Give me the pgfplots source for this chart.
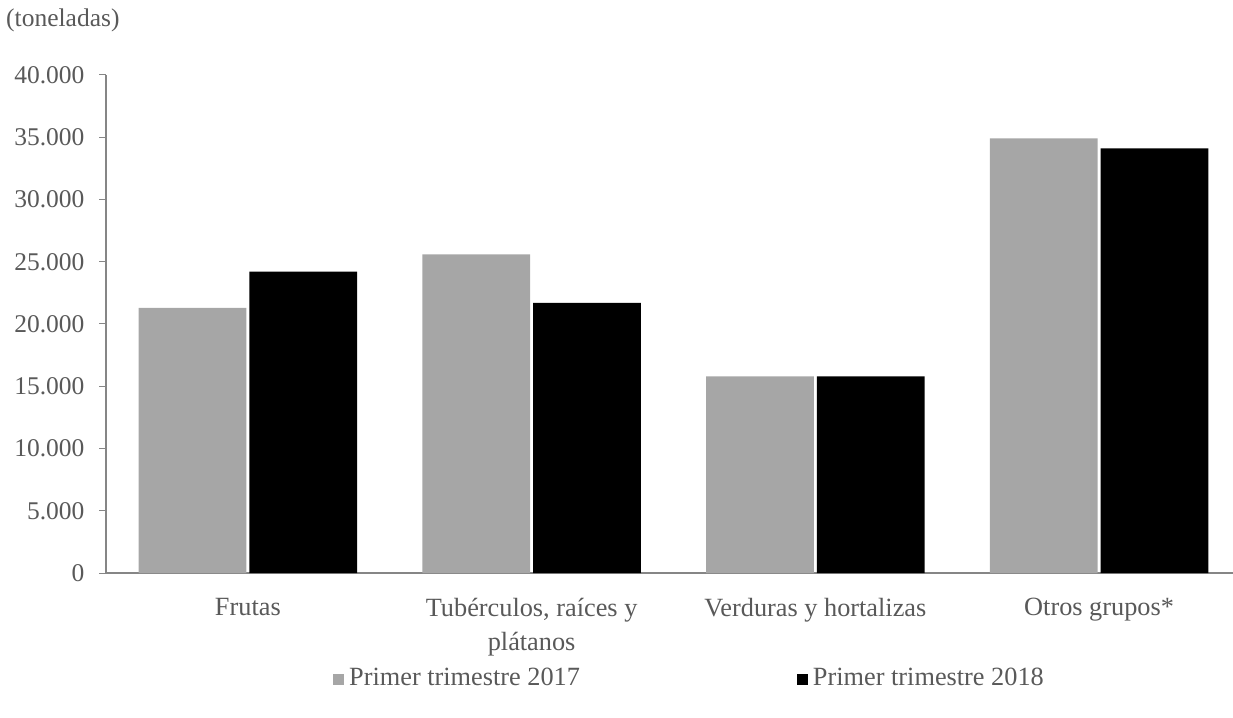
\documentclass[border=0pt]{standalone}
\usepackage{pgfplots}
\pgfplotsset{compat=1.18}
\usepackage{fontspec}
\setmainfont{Liberation Serif}
\definecolor{txt}{HTML}{595959}
\definecolor{axl}{HTML}{868686}
\definecolor{bgray}{HTML}{A6A6A6}
\begin{document}
\fontsize{25}{33}\selectfont
\begin{tikzpicture}[x=1pt,y=1pt]
\path[use as bounding box] (0,0) rectangle (1233,717);
\node[anchor=west, text=txt, inner sep=0pt, font=\rmfamily\fontsize{25.5}{30}\selectfont] at (6,697) {(toneladas)};
\begin{axis}[
  scale only axis,
  width=1135pt, height=498pt,
  at={(106pt,144pt)}, anchor=south west,
  xmin=-0.5, xmax=3.5,
  ymin=0, ymax=40000,
  axis x line*=bottom, axis y line*=left,
  axis line style={color=axl, line width=1.2pt},
  ytick={0,5000,...,40000},
  /pgf/number format/.cd, 1000 sep={.}, assume math mode=true,
  /pgfplots/.cd,
  scaled y ticks=false,
  tick align=outside,
  major tick length=7pt,
  tick style={color=axl, line width=1pt},
  yticklabel style={text=txt, font=\rmfamily\fontsize{25.5}{30}\selectfont, xshift=-6pt},
  xtick={0,1,2,3},
  xticklabels={Frutas, {Tubérculos, raíces y\\plátanos}, Verduras y hortalizas, Otros grupos*},
  xticklabel style={text=txt, align=center, font=\rmfamily\fontsize{26.3}{34}\selectfont, yshift=-10pt},
  x tick style={draw=none},
  extra x ticks={0.5,1.5,2.5,3.5},
  extra x tick labels={},
  extra x tick style={tick style={draw=axl, line width=1pt}, major tick length=7pt},
  clip=false,
  legend columns=2,
  legend style={draw=none, fill=none, at={(0.2,-0.213)}, anchor=west,
    font=\rmfamily\fontsize{26.3}{30}\selectfont, text=txt,
    /tikz/every odd column/.append style={column sep=3pt},
    /tikz/every even column/.append style={column sep=215pt},
    inner sep=0pt},
  legend image code/.code={\fill[#1] (0pt,-5.5pt) rectangle (11pt,5.5pt);},
]
\addplot[ybar, bar width=0.38, bar shift=-0.195, fill=bgray, draw=none]
  coordinates {(0,21300) (1,25600) (2,15800) (3,34900)};
\addlegendentry{Primer trimestre 2017}
\addplot[ybar, bar width=0.38, bar shift=0.195, fill=black, draw=none]
  coordinates {(0,24200) (1,21700) (2,15800) (3,34100)};
\addlegendentry{Primer trimestre 2018}
\end{axis}
\end{tikzpicture}
\end{document}
